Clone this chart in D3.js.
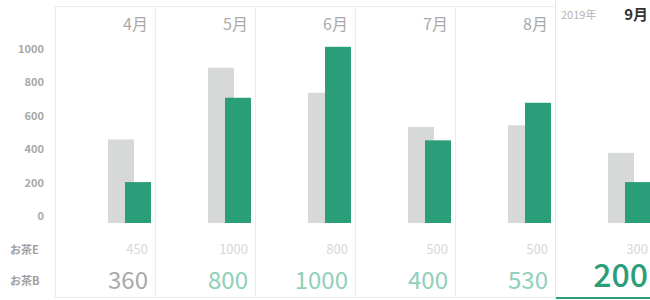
<!DOCTYPE html>
<meta charset="utf-8">
<style>
body { margin: 0; background: #fff; }
text { font-family: "Noto Sans CJK JP", "Noto Sans", sans-serif; }
.axis text { font-size: 11px; font-weight: 700; fill: #a8a8a8; }
.series-name { font-size: 11px; font-weight: 700; fill: #a0a0a0; }
</style>
<body>
<script src="https://cdn.jsdelivr.net/npm/d3@7/dist/d3.min.js"></script>
<script>
// chart values
var months = ["4月", "5月", "6月", "7月", "8月", "9月"];
var barE = [500, 930, 780, 575, 585, 420];
var barB = [245, 750, 1055, 495, 720, 245];
var labelE = [450, 1000, 800, 500, 500, 300];
var labelB = [360, 800, 1000, 400, 530, 200];
var yTicks = [0, 200, 400, 600, 800, 1000];
var seriesNames = ["お茶E", "お茶B"];
var yearLabel = "2019年";
var selected = 5;

var width = 650, height = 300;

var svg = d3.select("body").append("svg")
    .attr("width", width)
    .attr("height", height);

// one panel per month
var x = d3.scaleBand()
    .domain(months)
    .range([55, 655]);

var y = d3.scaleLinear()
    .domain([0, 1000])
    .range([223, 56]);

var green = "#2a9e79";

// panel borders
svg.selectAll(".panel")
    .data(months.filter((d, i) => i !== selected))
  .enter().append("rect")
    .attr("class", "panel")
    .attr("x", d => x(d) + 0.5)
    .attr("y", 6.5)
    .attr("width", x.bandwidth())
    .attr("height", 291)
    .attr("fill", "none")
    .attr("stroke", "#ededed");

// selected panel: no top edge, green underline
var sx = x(months[selected]);
svg.append("line")
    .attr("x1", sx + 0.5).attr("x2", sx + 0.5)
    .attr("y1", 0).attr("y2", 298)
    .attr("stroke", "#e6e6e6");
svg.append("line")
    .attr("x1", sx + 1).attr("x2", width)
    .attr("y1", 298).attr("y2", 298)
    .attr("stroke", green)
    .attr("stroke-width", 2);

// y axis
var yAxis = svg.append("g")
    .attr("class", "axis")
    .attr("transform", "translate(47,-7)")
    .call(d3.axisLeft(y).tickValues(yTicks).tickFormat(d3.format("d"))
        .tickSize(0).tickPadding(3));
yAxis.select(".domain").remove();
yAxis.selectAll("text").style("font-family", null);

// bars
svg.selectAll(".barE")
    .data(barE)
  .enter().append("rect")
    .attr("class", "barE")
    .attr("x", (d, i) => x(months[i]) + 53)
    .attr("y", d => y(d))
    .attr("width", 26)
    .attr("height", d => y(0) - y(d))
    .attr("fill", "#d6d9d8");

svg.selectAll(".barB")
    .data(barB)
  .enter().append("rect")
    .attr("class", "barB")
    .attr("x", (d, i) => x(months[i]) + 70)
    .attr("y", d => y(d))
    .attr("width", 26)
    .attr("height", d => y(0) - y(d))
    .attr("fill", green);

// month labels
svg.selectAll(".month")
    .data(months)
  .enter().append("text")
    .attr("class", "month")
    .attr("x", d => x(d) + x.bandwidth() - 7)
    .attr("y", (d, i) => i === selected ? 20 : 30)
    .attr("text-anchor", "end")
    .style("font-size", (d, i) => i === selected ? "15px" : "16px")
    .style("font-weight", (d, i) => i === selected ? 700 : 400)
    .style("fill", (d, i) => i === selected ? "#333" : "#aaa")
    .text(d => d);

svg.append("text")
    .attr("x", sx + 6)
    .attr("y", 19)
    .style("font-size", "11px")
    .style("fill", "#b4b4b4")
    .text(yearLabel);

// series names
svg.selectAll(".series-name")
    .data(seriesNames)
  .enter().append("text")
    .attr("class", "series-name")
    .attr("x", 10)
    .attr("y", (d, i) => i === 0 ? 254 : 285)
    .text(d => d);

// value rows
svg.selectAll(".valE")
    .data(labelE)
  .enter().append("text")
    .attr("class", "valE")
    .attr("x", (d, i) => x(months[i]) + x.bandwidth() - 7)
    .attr("y", 254)
    .attr("text-anchor", "end")
    .style("font-size", "13px")
    .style("fill", "#d8d8d8")
    .text(d => d);

svg.selectAll(".valB")
    .data(labelB)
  .enter().append("text")
    .attr("class", "valB")
    .attr("x", (d, i) => x(months[i]) + x.bandwidth() - 7)
    .attr("y", (d, i) => i === selected ? 287 : 289)
    .attr("text-anchor", "end")
    .style("font-size", (d, i) => i === selected ? "32px" : "24px")
    .style("font-weight", (d, i) => i === selected ? 500 : 400)
    .style("fill", (d, i) => i === selected ? green : (i === 0 ? "#a9a9a9" : "#8fd0b7"))
    .text(d => d);
</script>
</body>
